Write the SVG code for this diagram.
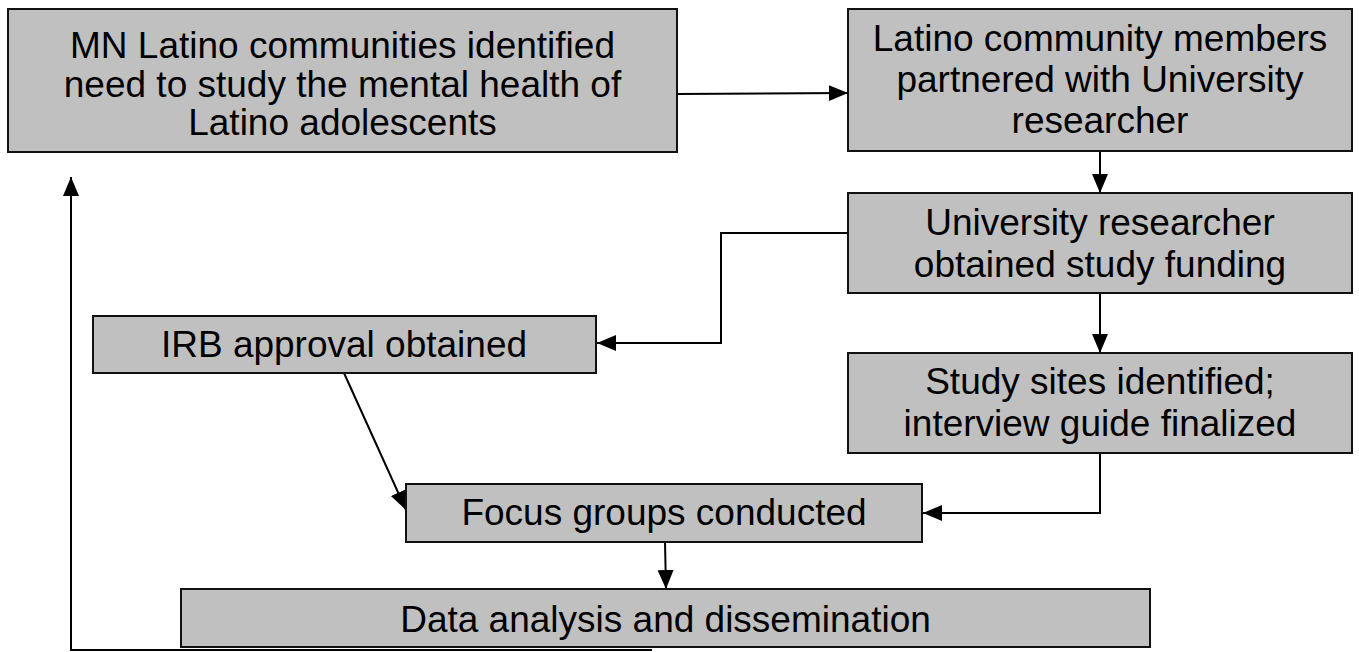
<svg xmlns="http://www.w3.org/2000/svg" width="1359" height="652" viewBox="0 0 1359 652">
<style>
.box{fill:#c0c0c0;stroke:#111;stroke-width:2}
.t{font-family:"Liberation Sans",Arial,sans-serif;font-size:37px;fill:#000;text-anchor:middle}
.c{fill:none;stroke:#000;stroke-width:2}
</style>
<defs>
<marker id="ah" markerUnits="userSpaceOnUse" markerWidth="20" markerHeight="18" refX="19" refY="8" orient="auto">
<path d="M0,0 L19,8 L0,16 z" fill="#000"/>
</marker>
</defs>
<rect width="1359" height="652" fill="#fff"/>
<g id="connectors">
<path class="c" d="M677,94 L848,93" marker-end="url(#ah)"/>
<path class="c" d="M1100,151 L1100,193" marker-end="url(#ah)"/>
<path class="c" d="M848,233 L721,233 L721,343 L597,343" marker-end="url(#ah)"/>
<path class="c" d="M1100,293 L1100,353" marker-end="url(#ah)"/>
<path class="c" d="M1100,453 L1100,513 L923,513" marker-end="url(#ah)"/>
<path class="c" d="M344,373 L406,510" marker-end="url(#ah)"/>
<path class="c" d="M665,542 L666,589" marker-end="url(#ah)"/>
<path class="c" d="M652,650 L71,650 L71,177" marker-end="url(#ah)"/>
</g>
<g id="n1">
<rect class="box" x="8" y="9" width="669" height="143"/>
<text class="t" x="342.5" y="58">MN Latino communities identified</text>
<text class="t" x="342.5" y="97">need to study the mental health of</text>
<text class="t" x="342.5" y="135">Latino adolescents</text>
</g>
<g id="n2">
<rect class="box" x="848" y="9" width="504" height="142"/>
<text class="t" x="1100" y="51">Latino community members</text>
<text class="t" x="1100" y="92">partnered with University</text>
<text class="t" x="1100" y="133">researcher</text>
</g>
<g id="n3">
<rect class="box" x="848" y="193" width="504" height="100"/>
<text class="t" x="1100" y="235">University researcher</text>
<text class="t" x="1100" y="277">obtained study funding</text>
</g>
<g id="n4">
<rect class="box" x="93" y="316" width="503" height="57"/>
<text class="t" x="344" y="357">IRB approval obtained</text>
</g>
<g id="n5">
<rect class="box" x="848" y="353" width="504" height="100"/>
<text class="t" x="1100" y="394">Study sites identified;</text>
<text class="t" x="1100" y="436">interview guide finalized</text>
</g>
<g id="n6">
<rect class="box" x="406" y="484" width="516" height="58"/>
<text class="t" x="664" y="525">Focus groups conducted</text>
</g>
<g id="n7">
<rect class="box" x="181" y="589" width="969" height="58"/>
<text class="t" x="665.5" y="632">Data analysis and dissemination</text>
</g>
</svg>
